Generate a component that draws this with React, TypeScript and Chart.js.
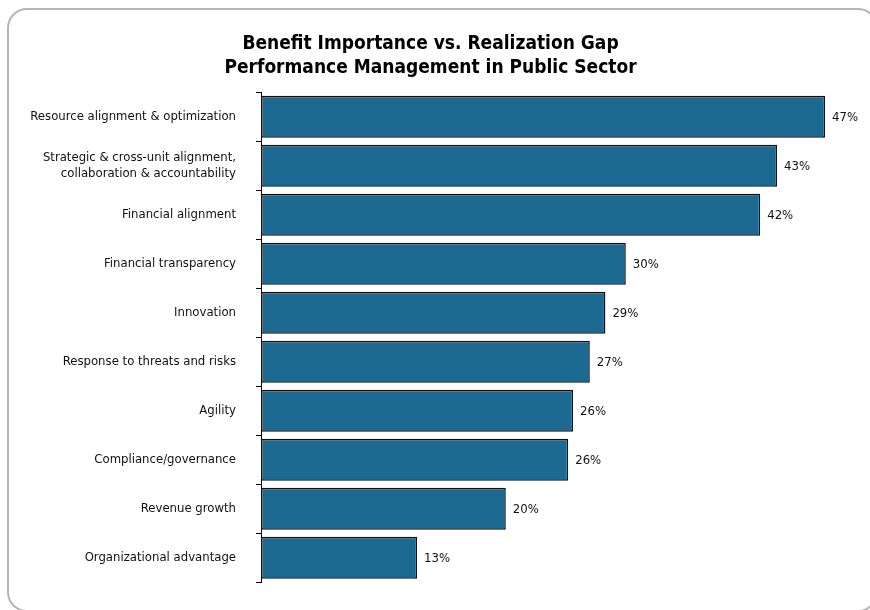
import React, { useEffect, useRef } from "react";
import { Chart, registerables } from "chart.js";

Chart.register(...registerables);

const categories: (string | string[])[] = [
  "Resource alignment & optimization",
  ["Strategic & cross-unit alignment,", "collaboration & accountability"],
  "Financial alignment",
  "Financial transparency",
  "Innovation",
  "Response to threats and risks",
  "Agility",
  "Compliance/governance",
  "Revenue growth",
  "Organizational advantage",
];

const gapValues: number[] = [47, 43, 41.6, 30.4, 28.7, 27.4, 26, 25.6, 20.4, 13];

const titleLines: string[] = [
  "Benefit Importance vs. Realization Gap",
  "Performance Management in Public Sector",
];

const FONT = "'Liberation Sans Narrow', 'Arial Narrow', 'DejaVu Sans Condensed', sans-serif";

const valueLabelPlugin = {
  id: "valueLabels",
  afterDatasetsDraw(chart: any) {
    const ctx = chart.ctx;
    const meta = chart.getDatasetMeta(0);
    ctx.save();
    ctx.font = `13px ${FONT}`;
    ctx.fillStyle = "#111111";
    ctx.textAlign = "left";
    ctx.textBaseline = "middle";
    meta.data.forEach((bar: any, i: number) => {
      const v = gapValues[i];
      ctx.fillText(`${Math.round(v)}%`, bar.x + 7, bar.y + 1);
    });
    ctx.restore();
  },
};

export default function App() {
  const canvasRef = useRef<HTMLCanvasElement | null>(null);

  useEffect(() => {
    if (!canvasRef.current) return;
    const chart = new Chart(canvasRef.current, {
      type: "bar",
      data: {
        labels: categories,
        datasets: [
          {
            data: gapValues,
            backgroundColor: "#1c6a91",
            borderColor: "#111111",
            borderWidth: 1.5,
            borderSkipped: false,
            barPercentage: 0.86,
            categoryPercentage: 1,
          },
        ],
      },
      options: {
        indexAxis: "y",
        responsive: false,
        animation: false,
        layout: { padding: { top: 32, bottom: 19, left: 0, right: 9 } },
        plugins: {
          legend: { display: false },
          tooltip: { enabled: false },
          title: {
            display: true,
            text: titleLines,
            color: "#000000",
            font: { family: FONT, size: 19, weight: "bold", lineHeight: 1.27 },
            padding: { top: 0, bottom: 12 },
          },
        },
        scales: {
          x: {
            display: false,
            min: 0,
            max: 50,
          },
          y: {
            afterFit: (scale: any) => {
              scale.width = 261;
            },
            grid: {
              display: true,
              drawOnChartArea: false,
              drawTicks: true,
              tickLength: 5,
              color: "#000000",
              offset: true,
            },
            border: { display: true, color: "#000000", width: 1 },
            ticks: {
              color: "#111111",
              padding: 20,
              font: { family: FONT, size: 13 },
            },
          },
        },
      },
      plugins: [valueLabelPlugin],
    });
    return () => chart.destroy();
  }, []);

  return (
    <div>
      <div
        style={{
          position: "fixed",
          left: 7,
          top: 8,
          width: 871,
          height: 604,
          border: "2px solid #b5b5b5",
          borderRadius: 20,
          boxSizing: "border-box",
        }}
      />
      <canvas
        ref={canvasRef}
        width={870}
        height={610}
        style={{ position: "fixed", left: 0, top: 0, width: 870, height: 610 }}
      />
    </div>
  );
}
